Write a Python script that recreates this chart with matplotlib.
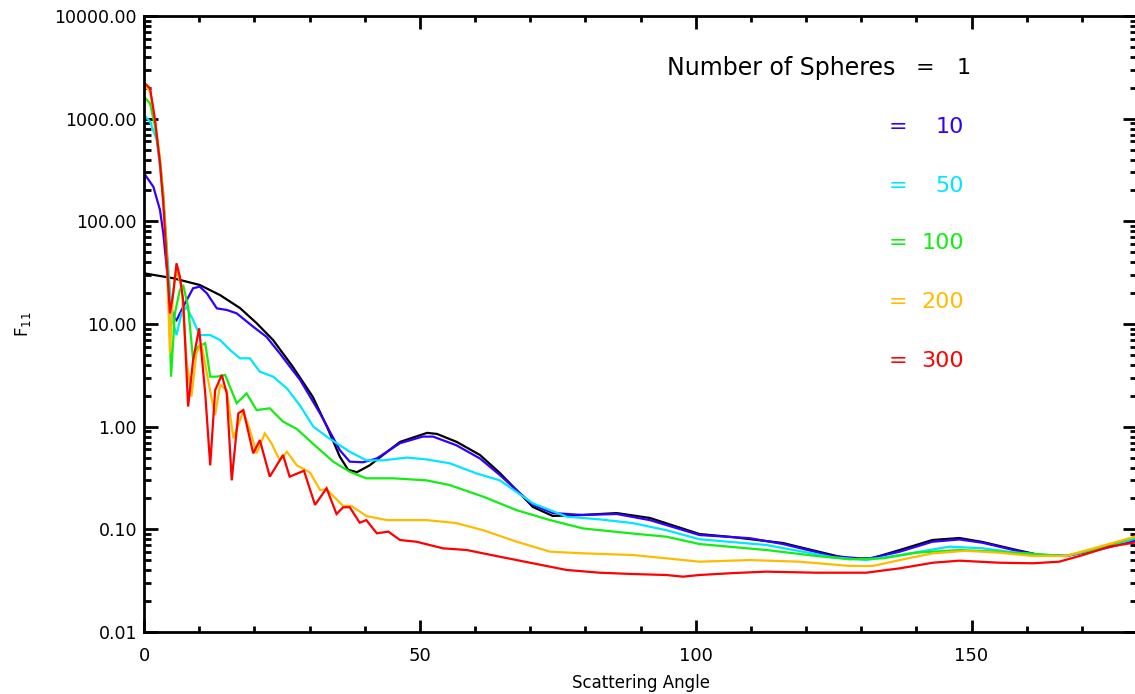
import matplotlib
matplotlib.use("Agg")
import matplotlib.pyplot as plt
from matplotlib.ticker import FixedLocator, MultipleLocator, LogLocator, FuncFormatter, NullFormatter

# ---------------- data ----------------
ang1 = [0, 5.3, 10.1, 13.8, 17.4, 20.4, 23.4, 27.0, 30.6, 33.2, 35.5, 37.0, 38.6, 40.9, 46.4, 51.3,
        53.1, 56.7, 60.9, 64.5, 70.5, 74.1, 79.5, 85.7, 91.7, 100.7, 106.7, 115.8, 124.8, 127.9,
        132.1, 137.0, 142.9, 147.8, 152.0, 158.2, 162.3, 167.2, 173.2, 180]
f11_1 = [31.2, 27.9, 24.0, 19.1, 14.3, 10.2, 6.98, 3.81, 1.95, 0.99, 0.51, 0.38, 0.36, 0.42, 0.71,
         0.87, 0.85, 0.71, 0.53, 0.354, 0.165, 0.135, 0.138, 0.144, 0.129, 0.090, 0.084, 0.0736,
         0.0562, 0.0514, 0.0526, 0.0629, 0.0787, 0.0823, 0.0753, 0.0629, 0.0562, 0.055, 0.0658, 0.085]

ang10 = [0, 1.7, 2.9, 3.5, 4.1, 4.7, 5.3, 5.9, 7.1, 8.9, 10.1, 11.4, 13.2, 15.0, 16.8, 19.8, 22.2,
         24.6, 28.3, 31.9, 35.5, 37.3, 39.7, 42.2, 46.4, 50.5, 52.4, 56.6, 60.9, 64.5, 70.5, 74.1,
         79.5, 85.7, 91.7, 100.7, 109.8, 115.8, 124.8, 131.0, 137.0, 142.9, 147.8, 152.0, 158.2,
         162.3, 167.2, 173.2, 180]
f11_10 = [294, 217, 129, 76, 36, 17.1, 11.8, 10.9, 14.7, 22.3, 23.1, 19.9, 14.2, 13.7, 12.7, 9.4,
          7.5, 5.18, 2.85, 1.35, 0.59, 0.456, 0.45, 0.49, 0.69, 0.80, 0.80, 0.66, 0.49, 0.338,
          0.173, 0.144, 0.138, 0.141, 0.123, 0.088, 0.082, 0.072, 0.055, 0.0514, 0.0606, 0.0757,
          0.0797, 0.074, 0.0618, 0.0562, 0.055, 0.0635, 0.078]

ang50 = [0, 1.1, 2.3, 2.9, 3.5, 4.1, 4.7, 5.3, 5.9, 6.8, 7.7, 8.9, 10.1, 12.0, 13.8, 15.6, 17.4,
         19.2, 21.0, 23.4, 25.9, 28.3, 30.7, 33.4, 37.3, 40.3, 43.4, 47.6, 51.2, 55.4, 60.3, 64.5,
         70.5, 76.6, 82.6, 88.6, 94.7, 100.7, 112.8, 124.9, 130.9, 137.0, 146.0, 152.0, 158.1,
         164.1, 167.1, 173.2, 180]
f11_50 = [1086, 933, 620, 340, 161, 57, 21.4, 10.2, 7.8, 12.7, 14.7, 10.9, 7.8, 7.8, 6.98, 5.58,
          4.63, 4.63, 3.43, 3.07, 2.36, 1.6, 1.0, 0.78, 0.57, 0.47, 0.47, 0.50, 0.48, 0.44, 0.35,
          0.30, 0.179, 0.133, 0.125, 0.115, 0.098, 0.080, 0.0704, 0.0534, 0.0502, 0.0562, 0.0678,
          0.0654, 0.0592, 0.0562, 0.055, 0.0654, 0.082]

ang100 = [0, 1.1, 2.0, 2.9, 3.5, 4.1, 4.5, 4.9, 5.6, 6.5, 7.1, 8.0, 8.9, 9.8, 11.1, 12.0, 13.2,
          14.7, 16.8, 18.6, 20.4, 22.8, 25.2, 27.7, 30.4, 34.3, 37.3, 40.3, 45.2, 51.2, 55.4, 61.5,
          67.5, 73.6, 79.6, 88.6, 94.7, 100.7, 112.8, 121.9, 127.9, 134.0, 140.0, 147.8, 155.1,
          164.1, 167.1, 173.2, 180]
f11_100 = [1637, 1410, 835, 396, 187, 57, 19.9, 3.07, 12.7, 21.4, 24, 14.7, 4.46, 6.0, 6.5, 3.07,
           3.07, 3.19, 1.69, 2.11, 1.45, 1.51, 1.12, 0.95, 0.70, 0.456, 0.364, 0.314, 0.314, 0.30,
           0.27, 0.208, 0.154, 0.123, 0.102, 0.091, 0.0848, 0.0719, 0.0629, 0.055, 0.0511, 0.0522,
           0.0592, 0.0629, 0.0606, 0.0562, 0.055, 0.0654, 0.085]

ang200 = [0, 1.1, 2.0, 2.9, 3.5, 4.1, 4.7, 5.3, 5.9, 6.8, 7.7, 8.6, 9.5, 10.4, 11.4, 12.3, 12.9,
          13.8, 15.0, 16.2, 17.4, 18.0, 19.2, 20.4, 21.9, 23.1, 24.6, 25.9, 27.7, 30.1, 31.9, 33.1,
          36.1, 37.6, 40.3, 44.0, 51.2, 56.6, 61.5, 67.5, 73.6, 79.6, 88.6, 94.7, 100.7, 109.8,
          118.8, 127.9, 132.1, 137.0, 143.0, 149.0, 155.1, 161.1, 167.1, 173.2, 180]
f11_200 = [2128, 1832, 970, 396, 161, 49, 5.18, 21.4, 33.6, 23.1, 4.46, 1.96, 5.18, 6.5, 3.31,
           1.82, 1.30, 2.55, 2.27, 0.77, 1.16, 1.40, 0.93, 0.55, 0.86, 0.69, 0.47, 0.57, 0.42,
           0.357, 0.242, 0.245, 0.169, 0.169, 0.135, 0.123, 0.123, 0.115, 0.098, 0.0759, 0.0606,
           0.0584, 0.0562, 0.0522, 0.0484, 0.0502, 0.0484, 0.0440, 0.044, 0.0502, 0.0584, 0.0618,
           0.0592, 0.055, 0.055, 0.0678, 0.086]

ang300 = [0, 1.1, 2.0, 2.9, 3.5, 4.1, 4.7, 5.3, 5.9, 6.5, 7.1, 8.0, 8.9, 10.0, 11.1, 12.0, 12.9,
          14.1, 15.0, 15.9, 17.1, 18.0, 19.8, 21.0, 22.8, 25.2, 26.4, 29.0, 31.0, 33.1, 34.9, 36.1,
          37.3, 39.1, 40.3, 42.2, 44.3, 46.4, 49.4, 54.2, 58.5, 64.5, 70.5, 76.6, 82.6, 88.6, 94.7,
          97.7, 100.7, 106.8, 112.8, 121.9, 130.9, 137.0, 143.0, 147.8, 155.1, 161.1, 165.9, 170.2,
          175.0, 180]
f11_300 = [2240, 1977, 970, 367, 150, 42, 12.7, 19.9, 39, 28.9, 17.1, 1.57, 4.46, 9.08, 2.11, 0.42,
           2.27, 3.19, 2.11, 0.30, 1.35, 1.45, 0.55, 0.74, 0.326, 0.53, 0.326, 0.372, 0.173, 0.251,
           0.141, 0.164, 0.164, 0.116, 0.123, 0.0915, 0.095, 0.0787, 0.0757, 0.0653, 0.0629,
           0.0541, 0.0467, 0.0402, 0.0378, 0.0367, 0.0359, 0.0346, 0.0359, 0.0375, 0.0387, 0.0378,
           0.0378, 0.0417, 0.0473, 0.0495, 0.0473, 0.0467, 0.0484, 0.0562, 0.0678, 0.075]

series_labels = ["1", "10", "50", "100", "200", "300"]
series_colors = ["#000000", "#3300ff", "#00e6ff", "#11ee11", "#ffbb00", "#ff0000"]
angles = [ang1, ang10, ang50, ang100, ang200, ang300]
values = [f11_1, f11_10, f11_50, f11_100, f11_200, f11_300]

y_ticks = [0.01, 0.1, 1, 10, 100, 1000, 10000]
x_ticks = [0, 50, 100, 150]

# ---------------- figure ----------------
W, H = 1135, 694
fig = plt.figure(figsize=(W / 100, H / 100), dpi=100)
left, right, top, bottom = 144, 1137, 16, 632
ax = fig.add_axes([left / W, 1 - bottom / H, (right - left) / W, (bottom - top) / H])

for xs, ys, c in zip(angles, values, series_colors):
    ax.plot(xs, ys, color=c, lw=1.6, solid_joinstyle="miter")

ax.set_yscale("log")
ax.set_xlim(0, 180)
ax.set_ylim(0.01, 10000)

ax.xaxis.set_major_locator(FixedLocator(x_ticks))
ax.xaxis.set_minor_locator(MultipleLocator(10))
ax.yaxis.set_major_locator(FixedLocator(y_ticks))
ax.yaxis.set_minor_locator(LogLocator(base=10, subs=range(2, 10), numticks=20))
ax.yaxis.set_major_formatter(FuncFormatter(lambda v, p: f"{v:.2f}"))
ax.yaxis.set_minor_formatter(NullFormatter())

for s in ax.spines.values():
    s.set_linewidth(2)
ax.tick_params(which="both", direction="in", top=True, right=True, width=2, color="black")
ax.tick_params(axis="x", which="major", length=9, pad=11, labelsize=13)
ax.tick_params(axis="x", which="minor", length=4.5)
ax.tick_params(axis="y", which="major", length=10, pad=5, labelsize=12.5)
ax.tick_params(axis="y", which="minor", length=5)

ax.set_xlabel("Scattering Angle", fontsize=12)
ax.xaxis.set_label_coords(0.5, -0.068)
ax.set_ylabel("F$_{11}$", fontsize=12)
ax.yaxis.set_label_coords(-0.112, 0.5)

# annotation block
y0 = 1 - 68 / H
fig.text(667 / W, y0, "Number of Spheres", fontsize=17, color="black", ha="left", va="center")
fig.text(916 / W, y0, "=", fontsize=16, color="black", ha="left", va="center")
fig.text(971 / W, y0, series_labels[0], fontsize=16, color="black", ha="right", va="center")
ys_txt = [127, 186, 243, 302, 361]
for lab, c, yp in zip(series_labels[1:], series_colors[1:], ys_txt):
    fig.text(889 / W, 1 - yp / H, "=", fontsize=16, color=c, ha="left", va="center")
    fig.text(964 / W, 1 - yp / H, lab, fontsize=16, color=c, ha="right", va="center")

fig.savefig("out.png", dpi=100)
